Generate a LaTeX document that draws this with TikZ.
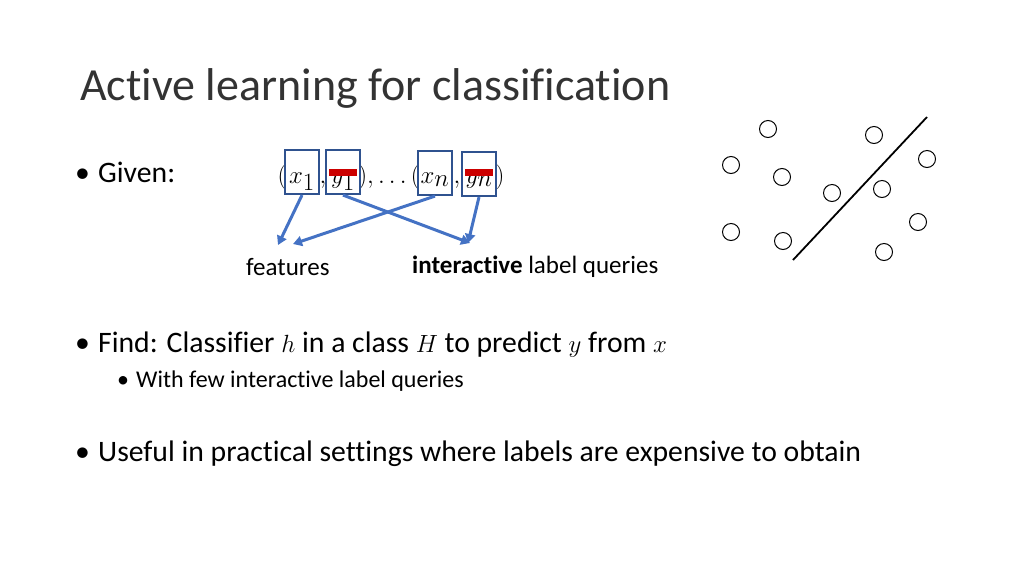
\documentclass[tikz,border=0pt]{standalone}
\usepackage{fontspec}
\setmainfont{Carlito}[Ligatures=NoCommon]
\usetikzlibrary{arrows.meta}
\begin{document}
\begin{tikzpicture}[x=1pt,y=-1pt,
  txt/.style={anchor=base west,inner sep=0pt},
  mth/.style={anchor=base,inner sep=0pt,font=\fontsize{36}{40}\selectfont},
  bx/.style={line width=2.2pt,minimum width=34pt,minimum height=44pt,inner sep=0pt},
  arr/.style={line width=3pt,-{Triangle[length=9pt,width=10pt]}},
  pt/.style={draw,circle,line width=1pt,minimum size=17pt,inner sep=0pt}]
\definecolor{bl}{RGB}{68,114,196}
\definecolor{bx2}{RGB}{47,82,143}
\tikzset{bx/.append style={draw=bx2},arr/.append style={draw=bl,fill=bl}}
\useasboundingbox (0,0) rectangle (1024,576);
\node[txt,font=\fontsize{46}{52}\selectfont,text=black!80] (title) at (80,100) {Active learning for classification};
\node[txt,font=\fontsize{29.7}{34}\selectfont] (b1) at (75,182) {\makebox[23pt][l]{•}Given:};
\node[mth] (p1) at (282,183) {$($};
\node[mth] (tx1) at (302,183) {$x_1$};
\node[mth] (cm1) at (323,183) {$,$};
\node[mth] (ty1) at (343,183) {$y_1$};
\node[mth] (dots) at (389,183) {$),\ldots($};
\node[mth] (txn) at (435,183) {$x_n$};
\node[mth] (cm2) at (457,183) {$,$};
\node[mth] (tyn) at (479,183) {$y_n$};
\node[mth] (p2) at (500,183) {$)$};
\node[bx] (x1) at (302,172) {};
\node[bx] (y1) at (343,172) {};
\node[bx] (xn) at (435,173) {};
\node[bx] (yn) at (479,174) {};
\fill[red!80!black] (329,169) rectangle (357,176);
\fill[red!80!black] (465,169) rectangle (493,176);
\coordinate (f1) at (278,245);
\coordinate (f2) at (293,244);
\coordinate (q1) at (470,243);
\coordinate (q2) at (468,243);
\draw[arr] (x1.south) -- (f1);
\draw[arr] (xn.south) -- (f2);
\draw[arr] (y1.south) -- (q1);
\draw[arr] (yn.south) -- (q2);
\node[txt,font=\fontsize{25}{28}\selectfont] (feat) at (246,275) {features};
\node[txt,font=\fontsize{25}{28}\selectfont] (iq) at (412,273) {\textbf{interactive} label queries};
\node[txt,font=\fontsize{29.7}{34}\selectfont] (b2) at (75,352) {\makebox[23pt][l]{•}Find: Classifier $h$ in a class $H$ to predict $y$ from $x$};
\node[txt,font=\fontsize{24}{28}\selectfont] (b3) at (117,387) {\makebox[19pt][l]{•}With few interactive label queries};
\node[txt,font=\fontsize{29.7}{34}\selectfont] (b4) at (75,461) {\makebox[23pt][l]{•}Useful in practical settings where labels are expensive to obtain};
\foreach \n/\a/\b in {c1/768/129,c2/874/135,c3/731/165,c4/782/177,c5/927/159,c6/832/193,c7/882/189,c8/918/222,c9/731/232,c10/783/241,c11/884/252}
  \node[pt] (\n) at (\a,\b) {};
\coordinate (l1) at (927,117);
\coordinate (l2) at (793,260);
\draw[line width=1.8pt] (l1) -- (l2);
\end{tikzpicture}
\end{document}
